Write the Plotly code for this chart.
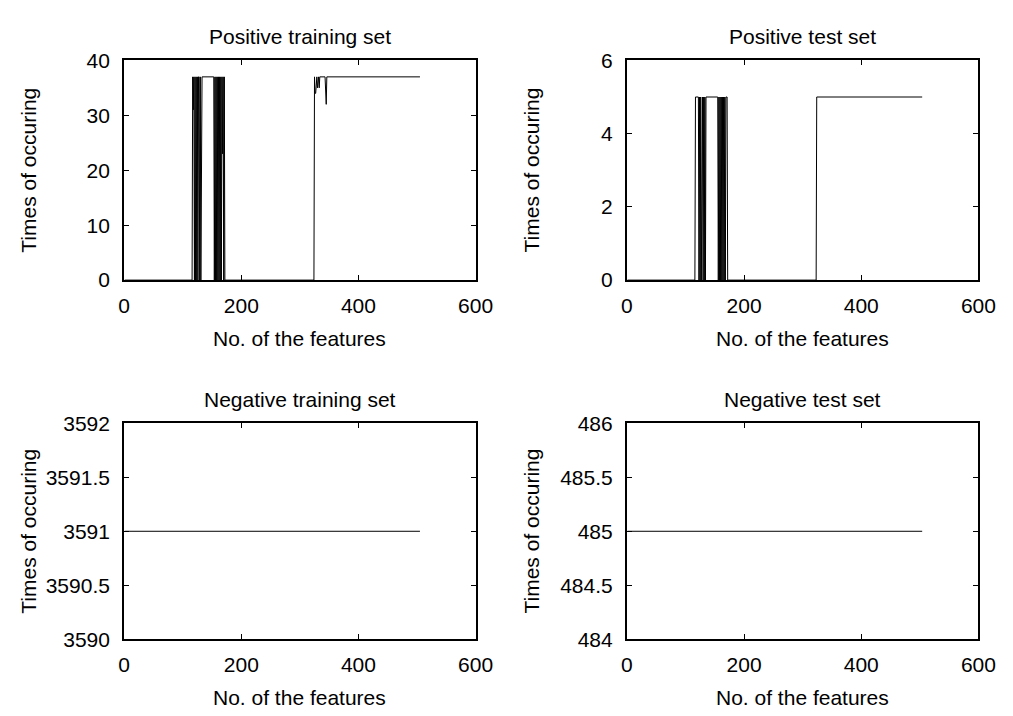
import plotly.graph_objects as go

# ---- data (feature index, times of occurring); constant runs given by their end points ----
pos_train_x = [1, 116, 117, 118, 119, 120, 121, 122, 123, 124, 125, 126, 127, 128, 129, 130, 131, 132, 133,
               153, 154, 155, 156, 157, 158, 159, 160, 161, 162, 163, 164, 165, 166, 167, 168, 169, 170, 171, 172,
               324, 325, 326, 327, 328, 329, 330, 331, 332, 333, 334, 343, 344, 345, 346, 505]
pos_train_y = [0, 0, 37, 31, 37, 0, 37, 0, 37, 0, 37, 0, 37, 37, 0, 37, 0, 37, 37,
               37, 0, 37, 0, 37, 0, 37, 0, 37, 0, 37, 0, 37, 0, 37, 23, 37, 0, 37, 0,
               0, 37, 34, 34, 37, 37, 35, 37, 37, 35, 37, 37, 32, 32, 37, 37]

pos_test_x = [1, 116, 117, 122, 123, 124, 125, 126, 127, 128, 129, 130, 131, 132, 133, 134, 135,
              155, 156, 157, 158, 159, 160, 161, 162, 163, 164, 165, 166, 167, 168, 169, 171, 172,
              323, 324, 504]
pos_test_y = [0, 0, 5, 5, 0, 5, 0, 5, 0, 5, 5, 0, 5, 0, 5, 0, 5,
              5, 0, 5, 0, 5, 0, 5, 0, 5, 0, 5, 0, 5, 0, 5, 5, 0,
              0, 5, 5]

neg_train_x = [1, 505]
neg_train_y = [3591, 3591]
neg_test_x = [1, 504]
neg_test_y = [485, 485]

titles = ["Positive training set", "Positive test set", "Negative training set", "Negative test set"]
x_title = "No. of the features"
y_title = "Times of occuring"

W, H = 1013, 716
FONT = "Liberation Sans, Arial, Helvetica, sans-serif"
FS = 21

def px_x(p):
    return p / W

def px_y(p):
    return 1 - p / H

# axes pixel boxes: (left, right, top, bottom)
boxes = [(121, 481, 50, 277), (636, 996, 50, 277), (121, 481, 425, 648), (636, 996, 425, 648)]
yranges = [[0, 40], [0, 6], [3590, 3592], [484, 486]]
ydticks = [10, 2, 0.5, 0.5]
yformats = ["", "", ".1~f", ".1~f"]
series = [(pos_train_x, pos_train_y), (pos_test_x, pos_test_y),
          (neg_train_x, neg_train_y), (neg_test_x, neg_test_y)]

fig = go.Figure()
layout = dict(width=W, height=H, margin=dict(l=0, r=0, t=0, b=0),
              paper_bgcolor="white", plot_bgcolor="white", showlegend=False,
              font=dict(family=FONT, size=FS, color="black"))
annotations = []
for i, ((l, r, t, b), (xs, ys)) in enumerate(zip(boxes, series)):
    n = "" if i == 0 else str(i + 1)
    fig.add_trace(go.Scatter(x=xs, y=ys, mode="lines", line=dict(color="black", width=1),
                             xaxis="x" + n, yaxis="y" + n, hoverinfo="x+y"))
    axcommon = dict(showline=True, linecolor="black", linewidth=2, mirror="ticks",
                    ticks="inside", ticklen=5, tickwidth=1, tickcolor="black",
                    showgrid=False, zeroline=False, tickfont=dict(family=FONT, size=FS, color="black"))
    layout["xaxis" + n] = dict(domain=[px_x(l), px_x(r)], range=[0, 600], dtick=200, tick0=0,
                               anchor="y" + n, ticklabelstandoff=6, **axcommon)
    layout["yaxis" + n] = dict(domain=[px_y(b), px_y(t)], range=yranges[i], dtick=ydticks[i],
                               tick0=yranges[i][0], anchor="x" + n, ticklabelstandoff=8,
                               tickformat=yformats[i], **axcommon)
    cx = (l + r) / 2
    cy = (t + b) / 2
    annotations.append(dict(text=titles[i], x=px_x(cx), y=px_y(t - 25), xref="paper", yref="paper",
                            showarrow=False, xanchor="center", yanchor="middle",
                            font=dict(family=FONT, size=FS, color="black")))
    annotations.append(dict(text=x_title, x=px_x(cx), y=px_y(b + 60), xref="paper", yref="paper",
                            showarrow=False, xanchor="center", yanchor="middle",
                            font=dict(family=FONT, size=FS, color="black")))
    annotations.append(dict(text=y_title, x=px_x(l - 98), y=px_y(cy), xref="paper", yref="paper",
                            showarrow=False, xanchor="center", yanchor="middle", textangle=-90,
                            font=dict(family=FONT, size=FS, color="black")))
layout["annotations"] = annotations
fig.update_layout(**layout)
fig.write_html("out.html")
